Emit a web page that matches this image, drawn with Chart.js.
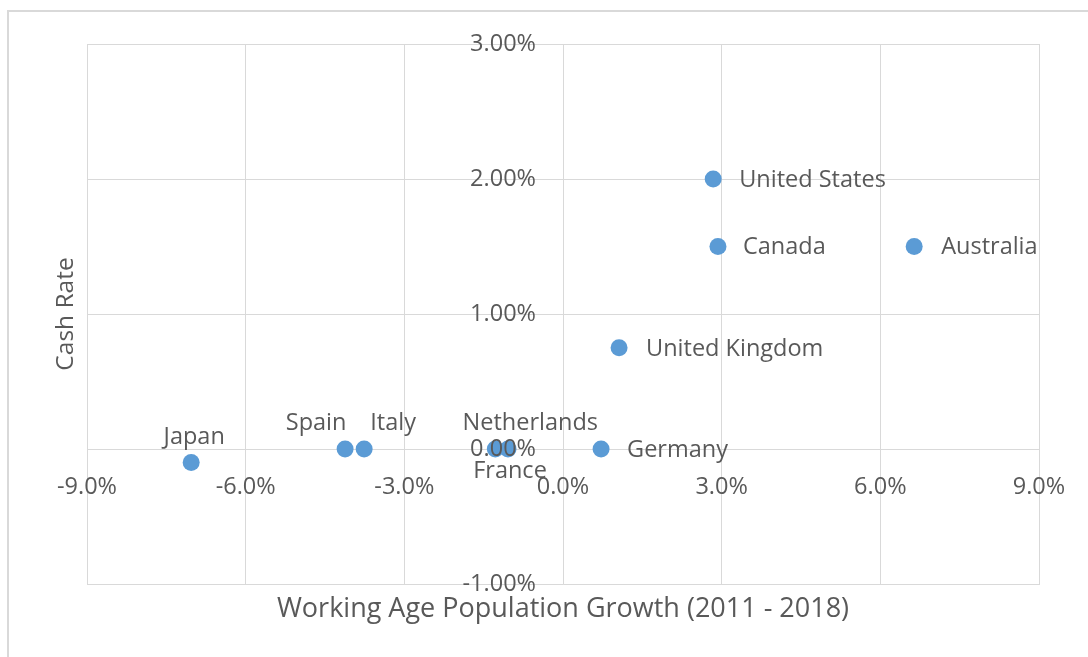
<!DOCTYPE html>
<html>
<head>
<meta charset="utf-8">
<script src="https://cdn.jsdelivr.net/npm/chart.js@4.4.1/dist/chart.umd.min.js"></script>
<style>
    html, body { margin: 0; padding: 0; background: #fff; overflow: hidden; }
    #frame { position: absolute; left: 7px; top: 10px; width: 1120px; height: 700px; border: 2px solid #d9d9d9; box-sizing: border-box; }
    #chart { position: absolute; left: 0; top: 0; }
</style>
</head>
<body>
<div id="frame"></div>
<canvas id="chart" width="1088" height="657"></canvas>
<script>
// ==================== DATA ====================
var countries = ['United States', 'Canada', 'Australia', 'United Kingdom', 'Germany', 'Netherlands', 'France', 'Spain', 'Italy', 'Japan'];
var popGrowth = [2.84, 2.93, 6.64, 1.06, 0.72, -1.28, -1.04, -4.12, -3.76, -7.03];   // %
var cashRate  = [2.00, 1.50, 1.50, 0.75, 0.00, 0.00, 0.00, 0.00, 0.00, -0.10];       // %

var xTicks = [-9, -6, -3, 0, 3, 6, 9];
var xTickLabels = ['-9.0%', '-6.0%', '-3.0%', '0.0%', '3.0%', '6.0%', '9.0%'];
var yTicks = [-1, 0, 1, 2, 3];
var yTickLabels = ['-1.00%', '0.00%', '1.00%', '2.00%', '3.00%'];

// label placement (px offset from the point, text align)
var labelPlacement = {
    'United States':  { dx: 26, dy: 1, align: 'left' },
    'Canada':         { dx: 25, dy: 1, align: 'left' },
    'Australia':      { dx: 27, dy: 1, align: 'left' },
    'United Kingdom': { dx: 27, dy: 2, align: 'left' },
    'Germany':        { dx: 26, dy: 1, align: 'left' },
    'Netherlands':    { dx: 35, dy: -26, align: 'center' },
    'France':         { dx: 2, dy: 22, align: 'center' },
    'Spain':          { dx: -29, dy: -26, align: 'center' },
    'Italy':          { dx: 29, dy: -26, align: 'center' },
    'Japan':          { dx: 3, dy: -25, align: 'center' }
};

var textColor = '#595959';
var gridColor = '#d9d9d9';
var pointColor = '#5b9bd5';
var fontFamily = "'Open Sans', 'Noto Sans', sans-serif";

// Draws the axis tick labels along the zero lines, plus the point labels
var crossLabels = {
    id: 'crossLabels',
    afterDatasetsDraw: function(chart) {
        var ctx = chart.ctx;
        var xs = chart.scales.x, ys = chart.scales.y;
        var x0 = xs.getPixelForValue(0), y0 = ys.getPixelForValue(0);
        ctx.save();
        ctx.fillStyle = textColor;
        ctx.font = '23.5px ' + fontFamily;
        ctx.textBaseline = 'middle';

        ctx.textAlign = 'right';
        yTicks.forEach(function(v, i) {
            ctx.fillText(yTickLabels[i], x0 - 27, ys.getPixelForValue(v));
        });

        ctx.textAlign = 'center';
        xTicks.forEach(function(v, i) {
            ctx.fillText(xTickLabels[i], xs.getPixelForValue(v), y0 + 38);
        });

        var meta = chart.getDatasetMeta(0);
        meta.data.forEach(function(pt, i) {
            var lp = labelPlacement[countries[i]];
            ctx.textAlign = lp.align;
            ctx.fillText(countries[i], pt.x + lp.dx, pt.y + lp.dy);
        });
        ctx.restore();
    }
};

new Chart(document.getElementById('chart'), {
    type: 'scatter',
    data: {
        datasets: [{
            label: 'Countries',
            data: popGrowth.map(function(g, i) { return { x: g, y: cashRate[i] }; }),
            backgroundColor: pointColor,
            borderColor: pointColor,
            borderWidth: 0,
            pointRadius: 8.5,
            pointHoverRadius: 8.5
        }]
    },
    options: {
        responsive: false,
        animation: false,
        devicePixelRatio: 1,
        layout: { padding: { left: 0, top: 44, right: 49, bottom: 0 } },
        plugins: { legend: { display: false }, tooltip: { enabled: false } },
        scales: {
            x: {
                type: 'linear',
                min: -9, max: 9,
                afterFit: function(s) { s.height = 73; },
                ticks: { stepSize: 3, display: false },
                grid: { color: gridColor, lineWidth: 1, drawTicks: false },
                border: { color: gridColor },
                title: {
                    display: true,
                    text: 'Working Age Population Growth (2011 - 2018)',
                    color: textColor,
                    font: { family: fontFamily, size: 27 },
                    padding: { top: 0, bottom: 31 }
                }
            },
            y: {
                type: 'linear',
                min: -1, max: 3,
                afterFit: function(s) { s.width = 87; },
                ticks: { stepSize: 1, display: false },
                grid: { color: gridColor, lineWidth: 1, drawTicks: false },
                border: { color: gridColor },
                title: {
                    display: true,
                    text: 'Cash Rate',
                    color: textColor,
                    font: { family: fontFamily, size: 24.5 },
                    padding: { top: 51, bottom: 0 }
                }
            }
        }
    },
    plugins: [crossLabels]
});
</script>
</body>
</html>
